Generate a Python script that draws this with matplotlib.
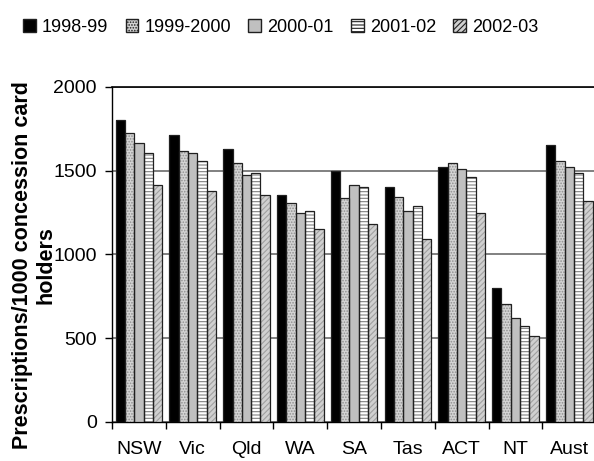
import matplotlib
matplotlib.use("Agg")
import matplotlib.pyplot as plt
import numpy as np
from matplotlib.patches import Patch

plt.rcParams['font.family'] = ['Liberation Sans', 'DejaVu Sans']
plt.rcParams['hatch.linewidth'] = 0.8

categories = ['NSW', 'Vic', 'Qld', 'WA', 'SA', 'Tas', 'ACT', 'NT', 'Aust']
series_names = ['1998-99', '1999-2000', '2000-01', '2001-02', '2002-03']
v1998 = [1800, 1713, 1630, 1355, 1500, 1403, 1522, 798, 1654]
v1999 = [1725, 1618, 1546, 1307, 1335, 1341, 1546, 704, 1558]
v2000 = [1666, 1606, 1473, 1246, 1413, 1258, 1510, 619, 1520]
v2001 = [1606, 1558, 1485, 1258, 1401, 1288, 1463, 573, 1485]
v2002 = [1413, 1377, 1353, 1150, 1180, 1094, 1246, 512, 1318]
values = [v1998, v1999, v2000, v2001, v2002]

styles = [
    dict(face='#000000', hatch=None, hc='#000000'),
    dict(face='#d4d4d4', hatch='......', hc='#909090'),
    dict(face='#c0c0c0', hatch=None, hc='#c0c0c0'),
    dict(face='#ffffff', hatch='-----', hc='#808080'),
    dict(face='#d0d0d0', hatch='//////', hc='#a0a0a0'),
]

fig = plt.figure(figsize=(5.94, 4.61), dpi=100)
ax = fig.add_axes([0.1886, 0.0846, 0.815, 0.7267])

x = np.arange(len(categories))
w = 0.173
for i, (vals, st) in enumerate(zip(values, styles)):
    pos = x - 2 * w + i * w
    ax.bar(pos, vals, width=w, color=st['face'], edgecolor=st['hc'],
           hatch=st['hatch'], linewidth=0, zorder=3)
    ax.bar(pos, vals, width=w, color='none', edgecolor='#202020',
           linewidth=0.9, zorder=4)

ax.set_xlim(-0.5, len(categories) - 0.5)
ax.set_ylim(0, 2000)
ax.set_yticks([0, 500, 1000, 1500, 2000])
ax.yaxis.grid(True, color='#808080', linewidth=1.4, zorder=0)
ax.set_axisbelow(True)
ax.set_xticks(x)
ax.set_xticklabels(categories)
ax.set_xticks(np.arange(-0.5, len(categories)), minor=True)
ax.tick_params(axis='x', which='major', length=0, pad=14, labelsize=14)
ax.tick_params(axis='x', which='minor', length=5, width=1, direction='out')
ax.tick_params(axis='y', length=5, width=1, direction='out', labelsize=14, pad=6)

ax.spines['right'].set_visible(False)
ax.spines['top'].set_color('black')
ax.spines['top'].set_linewidth(1.2)
ax.spines['left'].set_linewidth(1)
ax.spines['bottom'].set_linewidth(1)

fig.text(0.058, 0.425, 'Prescriptions/1000 concession card\nholders', fontsize=15.5,
         fontweight='bold', rotation=90, ha='center', va='center',
         multialignment='center', linespacing=1.15)

handles = [Patch(facecolor=st['face'], edgecolor=st['hc'], hatch=st['hatch'])
           for st in styles]
leg = fig.legend(handles, series_names, loc='center left', bbox_to_anchor=(0.039, 0.94),
                 ncol=5, frameon=False, fontsize=13, handlelength=0.7,
                 handleheight=0.75, handletextpad=0.35, columnspacing=0.95,
                 borderaxespad=0.0, borderpad=0.0)
for h in leg.legend_handles:
    h.set_edgecolor('#202020')

fig.savefig('out.png', dpi=100)
